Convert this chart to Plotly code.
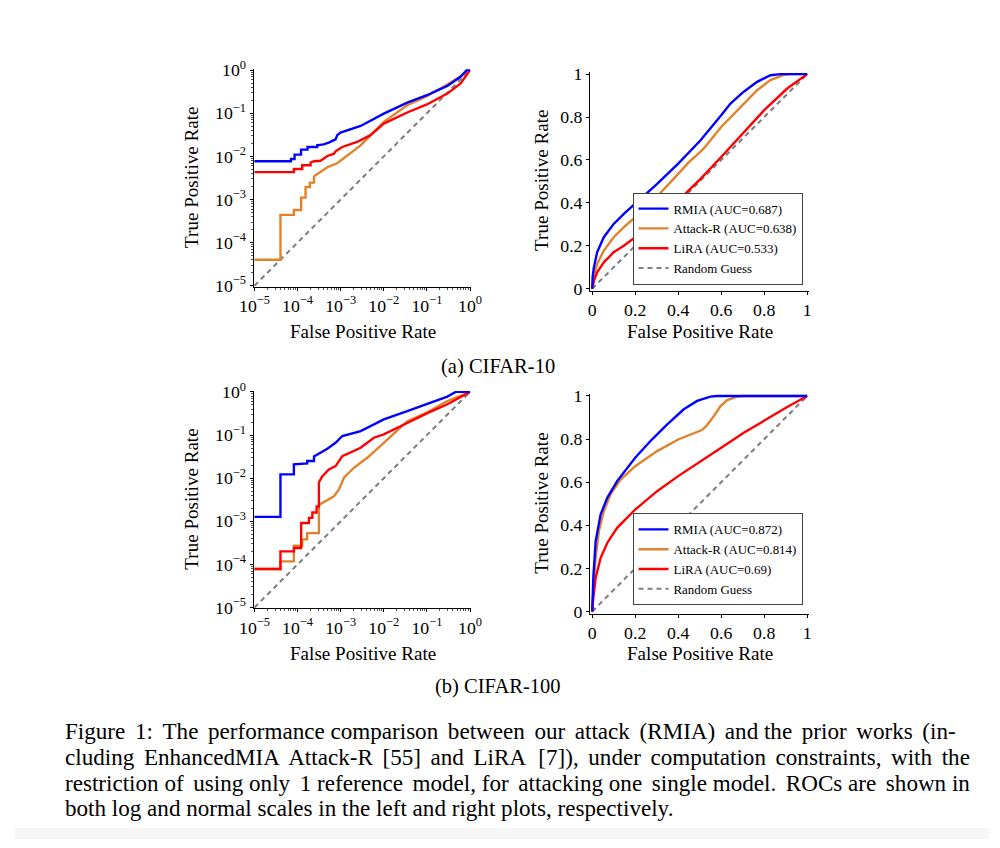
import plotly.graph_objects as go

# ---------------- data ----------------
# CIFAR-10, log-scale ROC (corner points of the step curves)
c10_log_rmia_fpr = [1e-5, 7e-5, 7e-5, 8.5e-5, 8.5e-5, 1.2e-4, 1.2e-4, 1.7e-4, 1.7e-4, 2.85e-4, 2.85e-4, 4e-4,
                    5.3e-4, 7.6e-4, 8.3e-4, 9.9e-4, 2.9e-3, 5.9e-3, 0.01, 0.035, 0.1, 0.298, 0.607, 0.837, 1.0]
c10_log_rmia_tpr = [0.0077, 0.0077, 0.0087, 0.0087, 0.011, 0.011, 0.0143, 0.0143, 0.0165, 0.0165, 0.018, 0.019,
                    0.0208, 0.0248, 0.0308, 0.0355, 0.0507, 0.0752, 0.098, 0.177, 0.262, 0.432, 0.70, 1.0, 1.0]
c10_log_attr_fpr = [1e-5, 4.0e-5, 4.0e-5, 8.2e-5, 8.2e-5, 1.21e-4, 1.21e-4, 1.53e-4, 1.53e-4, 1.93e-4, 1.93e-4,
                    2.4e-4, 2.4e-4, 3.4e-4, 4.9e-4, 8.3e-4, 1.42e-3, 2.9e-3, 0.01, 0.035, 0.1, 0.298, 1.0]
c10_log_attr_tpr = [4.0e-5, 4.0e-5, 4.4e-4, 4.4e-4, 5.7e-4, 5.7e-4, 1.1e-3, 1.1e-3, 1.95e-3, 1.95e-3, 2.45e-3,
                    2.45e-3, 3.45e-3, 4.3e-3, 5.6e-3, 6.9e-3, 0.0105, 0.018, 0.063, 0.153, 0.25, 0.464, 1.0]
c10_log_lira_fpr = [1e-5, 8.2e-5, 8.2e-5, 1.28e-4, 1.28e-4, 2.0e-4, 2.0e-4, 2.4e-4, 3.4e-4, 4.9e-4, 7.0e-4,
                    7.6e-4, 1.09e-3, 2.4e-3, 4.9e-3, 0.01, 0.035, 0.1, 0.298, 0.607, 1.0]
c10_log_lira_tpr = [0.0043, 0.0043, 0.0051, 0.0051, 0.0062, 0.0062, 0.0072, 0.0077, 0.0079, 0.0102, 0.0115,
                    0.0131, 0.0165, 0.0216, 0.031, 0.0575, 0.104, 0.16, 0.286, 0.49, 1.0]

# CIFAR-10, linear ROC
c10_lin_rmia_fpr = [0, 0.002, 0.008, 0.023, 0.054, 0.10, 0.147, 0.2, 0.302, 0.4, 0.504, 0.6, 0.643, 0.705,
                    0.767, 0.829, 0.876, 1.0]
c10_lin_rmia_tpr = [0, 0.055, 0.10, 0.17, 0.24, 0.302, 0.349, 0.396, 0.489, 0.583, 0.692, 0.808, 0.863, 0.918,
                    0.964, 0.995, 1.0, 1.0]
c10_lin_attr_fpr = [0, 0.003, 0.008, 0.023, 0.054, 0.10, 0.147, 0.2, 0.302, 0.4, 0.45, 0.5, 0.52, 0.6, 0.705,
                    0.767, 0.829, 0.891, 0.922, 1.0]
c10_lin_attr_tpr = [0, 0.035, 0.061, 0.115, 0.178, 0.24, 0.287, 0.333, 0.43, 0.535, 0.59, 0.635, 0.655, 0.754,
                    0.863, 0.925, 0.972, 0.997, 1.0, 1.0]
c10_lin_lira_fpr = [0, 0.003, 0.008, 0.023, 0.054, 0.10, 0.147, 0.2, 0.302, 0.4, 0.504, 0.6, 0.705, 0.8,
                    0.907, 1.0]
c10_lin_lira_tpr = [0, 0.02, 0.037, 0.076, 0.123, 0.17, 0.20, 0.24, 0.318, 0.411, 0.512, 0.614, 0.73, 0.832,
                    0.933, 1.0]

# CIFAR-100, log-scale ROC
c100_log_rmia_fpr = [1e-5, 4.0e-5, 4.0e-5, 8.2e-5, 8.2e-5, 1.67e-4, 1.67e-4, 2.4e-4, 2.4e-4, 3.4e-4, 4.9e-4,
                     7.6e-4, 1.09e-3, 2.9e-3, 0.01, 0.035, 0.1, 0.298, 0.464, 1.0]
c100_log_rmia_tpr = [1.26e-3, 1.26e-3, 0.0122, 0.0122, 0.021, 0.022, 0.025, 0.025, 0.032, 0.039, 0.048,
                     0.066, 0.095, 0.124, 0.231, 0.361, 0.517, 0.778, 1.0, 1.0]
c100_log_attr_fpr = [1e-5, 4.0e-5, 4.0e-5, 8.2e-5, 8.2e-5, 1.28e-4, 1.28e-4, 1.67e-4, 1.67e-4, 3.12e-4, 3.12e-4,
                     4.9e-4, 6.95e-4, 9.1e-4, 1.19e-3, 2.02e-3, 4.13e-3, 0.01, 0.035, 0.1, 0.298, 1.0]
c100_log_attr_tpr = [7.8e-5, 7.8e-5, 1.17e-4, 1.17e-4, 2.7e-4, 2.7e-4, 3.8e-4, 3.8e-4, 5.3e-4, 5.3e-4, 2.4e-3,
                     3.1e-3, 3.8e-3, 5.45e-3, 0.0102, 0.0174, 0.0297, 0.066, 0.21, 0.331, 0.618, 1.0]
c100_log_lira_fpr = [1e-5, 4.0e-5, 4.0e-5, 8.2e-5, 8.2e-5, 1.21e-4, 1.21e-4, 1.83e-4, 1.83e-4, 2.2e-4, 2.2e-4,
                     2.76e-4, 2.76e-4, 3.12e-4, 3.12e-4, 3.72e-4, 5.3e-4, 7.6e-4, 1.09e-3, 2.9e-3, 5.9e-3,
                     0.01, 0.035, 0.1, 0.298, 1.0]
c100_log_lira_tpr = [7.8e-5, 7.8e-5, 2.0e-4, 2.0e-4, 2.4e-4, 2.4e-4, 9.1e-4, 9.1e-4, 1.2e-3, 1.2e-3, 1.6e-3,
                     1.6e-3, 2.2e-3, 2.2e-3, 8.0e-3, 0.011, 0.016, 0.019, 0.0325, 0.0507, 0.0867,
                     0.104, 0.19, 0.319, 0.517, 1.0]

# CIFAR-100, linear ROC
c100_lin_rmia_fpr = [0, 0.002, 0.005, 0.016, 0.039, 0.07, 0.116, 0.2, 0.271, 0.349, 0.426, 0.488, 0.55, 0.581, 1.0]
c100_lin_rmia_tpr = [0, 0.08, 0.155, 0.326, 0.45, 0.527, 0.605, 0.713, 0.791, 0.868, 0.938, 0.977, 0.997, 1.0, 1.0]
c100_lin_attr_fpr = [0, 0.002, 0.005, 0.016, 0.031, 0.054, 0.085, 0.132, 0.2, 0.302, 0.4, 0.51, 0.53, 0.566,
                     0.597, 0.628, 0.674, 0.705, 1.0]
c100_lin_attr_tpr = [0, 0.05, 0.093, 0.248, 0.372, 0.465, 0.543, 0.612, 0.674, 0.744, 0.798, 0.842, 0.86, 0.907,
                     0.953, 0.981, 0.997, 1.0, 1.0]
c100_lin_lira_fpr = [0, 0.002, 0.005, 0.016, 0.039, 0.07, 0.116, 0.2, 0.302, 0.4, 0.504, 0.6, 0.705, 0.8, 0.907, 1.0]
c100_lin_lira_tpr = [0, 0.03, 0.062, 0.155, 0.248, 0.318, 0.388, 0.473, 0.558, 0.628, 0.698, 0.76, 0.829, 0.887,
                     0.949, 1.0]

random_lin = [0, 1]
random_log = [1e-5, 1]

c10_names = ["RMIA (AUC=0.687)", "Attack-R (AUC=0.638)", "LiRA (AUC=0.533)", "Random Guess"]
c100_names = ["RMIA (AUC=0.872)", "Attack-R (AUC=0.814)", "LiRA (AUC=0.69)", "Random Guess"]

log_tickvals = [1e-5, 1e-4, 1e-3, 1e-2, 1e-1, 1]
log_ticktext = ["10<sup>−5</sup>", "10<sup>−4</sup>", "10<sup>−3</sup>", "10<sup>−2</sup>",
                "10<sup>−1</sup>", "10<sup>0</sup>"]
log_minor = [m * d for d in [1e-5, 1e-4, 1e-3, 1e-2, 1e-1] for m in range(2, 10)]
lin_tickvals = [0, 0.2, 0.4, 0.6, 0.8, 1]
lin_ticktext = ["0", "0.2", "0.4", "0.6", "0.8", "1"]

subcaptions = ["(a) CIFAR-10", "(b) CIFAR-100"]
caption_lines = [
    "Figure 1: The performance comparison between our attack (RMIA) and the prior works (in-",
    "cluding EnhancedMIA Attack-R [55] and LiRA [7]), under computation constraints, with the",
    "restriction of using only 1 reference model, for attacking one single model. ROCs are shown in",
    "both log and normal scales in the left and right plots, respectively.",
]

# ---------------- geometry helpers ----------------
# the page is shown slightly scaled/offset in the photo; work in photo pixels
S, OX, OY = 0.974, 14.5, 11.0
W, H = 1000, 848


def px(x):
    return (x - OX) / S / W


def py(y):
    return 1 - (y - OY) / S / H


def fs(size):
    return size / S


# ---------------- style ----------------
FONT = "Liberation Serif, Times New Roman, serif"
BLUE, ORANGE, RED, GRAY = "#0000ff", "#e0822a", "#ff0000", "#7f7f7f"
LW = fs(2.3)

fig = go.Figure()


def panel(xa, ya, data, names, legend, showlegend):
    xs, ys = data[3]
    fig.add_trace(go.Scatter(x=xs, y=ys, mode="lines", name=names[3],
                             line=dict(color=GRAY, width=fs(2.0), dash="5px,4px"),
                             xaxis=xa, yaxis=ya, legend=legend, showlegend=showlegend,
                             legendrank=4))
    for c, i in zip([ORANGE, RED, BLUE], [1, 2, 0]):
        fig.add_trace(go.Scatter(x=data[i][0], y=data[i][1], mode="lines", name=names[i],
                                 line=dict(color=c, width=LW),
                                 xaxis=xa, yaxis=ya, legend=legend, showlegend=showlegend,
                                 legendrank=i + 1))


panel("x", "y", [(c10_log_rmia_fpr, c10_log_rmia_tpr), (c10_log_attr_fpr, c10_log_attr_tpr),
                 (c10_log_lira_fpr, c10_log_lira_tpr), (random_log, random_log)], c10_names, "legend", False)
panel("x2", "y2", [(c10_lin_rmia_fpr, c10_lin_rmia_tpr), (c10_lin_attr_fpr, c10_lin_attr_tpr),
                   (c10_lin_lira_fpr, c10_lin_lira_tpr), (random_lin, random_lin)], c10_names, "legend", True)
panel("x3", "y3", [(c100_log_rmia_fpr, c100_log_rmia_tpr), (c100_log_attr_fpr, c100_log_attr_tpr),
                   (c100_log_lira_fpr, c100_log_lira_tpr), (random_log, random_log)], c100_names, "legend2", False)
panel("x4", "y4", [(c100_lin_rmia_fpr, c100_lin_rmia_tpr), (c100_lin_attr_fpr, c100_lin_attr_tpr),
                   (c100_lin_lira_fpr, c100_lin_lira_tpr), (random_lin, random_lin)], c100_names, "legend2", True)

tickfont = dict(family=FONT, size=fs(17.3), color="black")
common = dict(showline=True, linecolor="black", linewidth=1, showgrid=False, zeroline=False,
              ticks="outside", ticklen=3, tickcolor="black", tickfont=tickfont, fixedrange=True)

LOGPAD = 0.86   # photo px for 0.02 decade
LINPAD = 2.15   # photo px for 0.01


def log_axis(p0, p1, horiz, anchor):
    if horiz:
        dom = [px(p0 - LOGPAD), px(p1 + LOGPAD)]
    else:
        dom = [py(p0 + LOGPAD), py(p1 - LOGPAD)]
    return dict(common, type="log", range=[-5.02, 0.02], domain=dom, anchor=anchor,
                tickmode="array", tickvals=log_tickvals, ticktext=log_ticktext,
                minor=dict(tickmode="array", tickvals=log_minor, ticks="outside", ticklen=2,
                           tickcolor="#555", showgrid=False))


def lin_axis(p0, p1, horiz, anchor):
    if horiz:
        dom = [px(p0 - LINPAD), px(p1 + LINPAD)]
    else:
        dom = [py(p0 + LINPAD), py(p1 - LINPAD)]
    return dict(common, type="linear", range=[-0.01, 1.01], domain=dom, anchor=anchor,
                tickmode="array", tickvals=lin_tickvals, ticktext=lin_ticktext)


fig.update_layout(
    width=W, height=H, margin=dict(l=0, r=0, t=0, b=0),
    paper_bgcolor="white", plot_bgcolor="white",
    xaxis=log_axis(254, 469.5, True, "y"),
    yaxis=log_axis(285, 70, False, "x"),
    xaxis2=lin_axis(591.7, 806.7, True, "y2"),
    yaxis2=lin_axis(288, 74, False, "x2"),
    xaxis3=log_axis(254, 469.5, True, "y3"),
    yaxis3=log_axis(606, 391, False, "x3"),
    xaxis4=lin_axis(591.7, 806.7, True, "y4"),
    yaxis4=lin_axis(610, 395, False, "x4"),
)

legend_style = dict(font=dict(family=FONT, size=fs(12.6), color="black"), bgcolor="white",
                    bordercolor="#444", borderwidth=1, xanchor="left", yanchor="bottom",
                    itemwidth=30, tracegroupgap=0, traceorder="normal")
fig.update_layout(
    legend=dict(legend_style, x=px(632), y=py(284)),
    legend2=dict(legend_style, x=px(632), y=py(604)),
)


def justify(line, extra):
    # emulate LaTeX justified text by widening inter-word gaps with six-per-em spaces
    words = line.split(" ")
    gaps = len(words) - 1
    out = words[0]
    for i in range(gaps):
        n = round((i + 1) * extra / gaps) - round(i * extra / gaps)
        out += " " + "\u2006" * n + words[i + 1]
    return out


ann = []
axfont = dict(family=FONT, size=fs(18.6), color="black")
for cx, cy in [(362, 330.5), (699, 330.5), (362, 651.5), (699, 651.5)]:
    ann.append(dict(text="False Positive Rate", x=px(cx), y=py(cy), xref="paper", yref="paper",
                    showarrow=False, font=axfont, xanchor="center", yanchor="middle"))
for cx, cy in [(191, 177), (541, 180), (191, 498), (541, 502)]:
    ann.append(dict(text="True Positive Rate", x=px(cx), y=py(cy), xref="paper", yref="paper",
                    showarrow=False, font=axfont, xanchor="center", yanchor="middle", textangle=-90))
for txt, cy in zip(subcaptions, [366, 685]):
    ann.append(dict(text=txt, x=px(497), y=py(cy), xref="paper", yref="paper", showarrow=False,
                    font=dict(family=FONT, size=fs(20.0), color="black"), xanchor="center", yanchor="middle"))
for txt, cy, extra in zip(caption_lines, [729, 755, 781, 806], [11, 12, 7, 0]):
    ann.append(dict(text=justify(txt, extra), x=px(62), y=py(cy), xref="paper", yref="paper",
                    showarrow=False, font=dict(family=FONT, size=fs(22.5), color="black"),
                    xanchor="left", yanchor="middle"))
fig.update_layout(annotations=ann)

fig.add_shape(type="rect", xref="paper", yref="paper", x0=0, x1=1, y0=0, y1=py(826),
              fillcolor="#f6f6f6", line=dict(width=0), layer="below")

fig.write_html(
    "out.html",
    config={"displayModeBar": False},
    post_script="document.body.style.margin='0';document.body.style.padding='0';"
                "document.documentElement.style.overflow='hidden';document.body.style.overflow='hidden';",
)
